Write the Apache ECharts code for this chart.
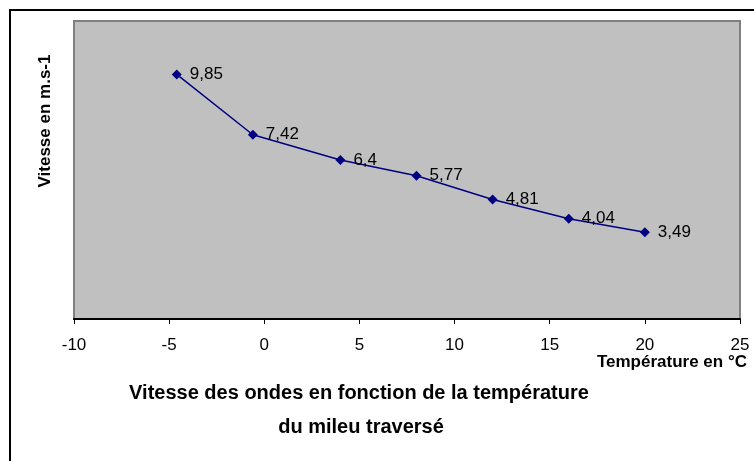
<!doctype html>
<html>
<head>
<meta charset="utf-8">
<title>Vitesse des ondes</title>
<script src="https://cdn.jsdelivr.net/npm/echarts@6/dist/echarts.min.js"></script>
<style type="text/css">
	html, body {margin:0; padding:0; background:#fff;}
	#chart {width:754px; height:461px;}
</style>
</head>
<body>
<div id="chart"></div>
<script type="text/javascript">
// températures (°C) et vitesses (m.s-1)
var temperatures = [-4.6, -0.6, 4, 8, 12, 16, 20];
var vitesses = [9.85, 7.42, 6.4, 5.77, 4.81, 4.04, 3.49];
var xTicks = [-10, -5, 0, 5, 10, 15, 20, 25];
var titre = ['Vitesse des ondes en fonction de la température', 'du mileu traversé'];

var points = [];
for (var i = 0; i < temperatures.length; i++) {
	points.push([temperatures[i], vitesses[i]]);
}

var police = '"Liberation Sans", Arial, sans-serif';
var chart = echarts.init(document.getElementById('chart'));
var option = {
	animation: false,
	textStyle: {fontFamily: police},
	graphic: [
		{ // cadre extérieur
			type: 'rect',
			shape: {x: 10, y: 10, width: 800, height: 500},
			style: {fill: null, stroke: '#000', lineWidth: 2},
			silent: true
		},
		{
			type: 'text',
			x: 359,
			y: 393,
			style: {text: titre[0], align: 'center', verticalAlign: 'middle', font: 'bold 20px ' + police, fill: '#000'}
		},
		{
			type: 'text',
			x: 361,
			y: 427,
			style: {text: titre[1], align: 'center', verticalAlign: 'middle', font: 'bold 20px ' + police, fill: '#000'}
		}
	],
	grid: {
		left: 74,
		right: 14,
		top: 21,
		bottom: 142,
		outerBoundsMode: 'none',
		containLabel: false,
		show: true,
		backgroundColor: '#c0c0c0',
		borderColor: '#808080',
		borderWidth: 2
	},
	xAxis: {
		type: 'value',
		min: xTicks[0],
		max: xTicks[xTicks.length - 1],
		interval: 5,
		name: 'Température en °C',
		nameLocation: 'end',
		nameGap: 0,
		nameTextStyle: {
			fontWeight: 'bold',
			fontSize: 17,
			color: '#000',
			align: 'right',
			verticalAlign: 'top',
			padding: [35, -7, 0, 0]
		},
		axisLine: {lineStyle: {color: '#000', width: 2}},
		axisTick: {show: true, length: 5, lineStyle: {color: '#000'}},
		axisLabel: {color: '#000', fontSize: 17, margin: 18},
		splitLine: {show: false}
	},
	yAxis: {
		type: 'value',
		min: 0,
		max: 12,
		name: 'Vitesse en m.s-1',
		nameLocation: 'middle',
		nameGap: 20,
		nameRotate: 90,
		nameTextStyle: {fontWeight: 'bold', fontSize: 17, color: '#000', padding: [0, 0, 0, 98]},
		axisLine: {show: false},
		axisTick: {show: false},
		axisLabel: {show: false},
		splitLine: {show: false}
	},
	series: [{
		type: 'line',
		data: points,
		symbol: 'diamond',
		symbolSize: 10,
		lineStyle: {color: '#000080', width: 1.5},
		itemStyle: {color: '#000080'},
		label: {
			show: true,
			position: 'right',
			distance: 8,
			color: '#000',
			fontSize: 17,
			formatter: function (p) { return String(p.value[1]).replace('.', ','); }
		}
	}]
};
chart.setOption(option);
</script>
</body>
</html>
